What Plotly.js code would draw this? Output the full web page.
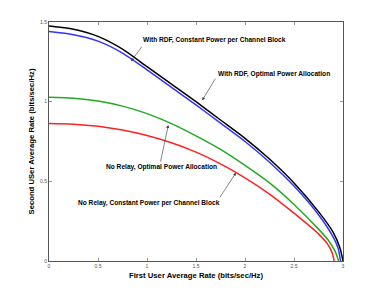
<!DOCTYPE html>
<html>
<head>
<meta charset="utf-8">
<script src="https://cdn.plot.ly/plotly-3.0.1.min.js"></script>
<style>html,body{margin:0;padding:0;background:#fff;}#chart{width:379px;height:294px;}</style>
</head>
<body>
<div id="chart"></div>
<script>
// Black: With RDF, Constant Power per Channel Block
const xBlack = [0, 0.25, 0.5, 0.75, 1.0, 1.25, 1.5, 1.75, 2.0, 2.25, 2.5, 2.75, 2.9, 2.97, 3.0];
const yBlack = [1.475, 1.455, 1.41, 1.33, 1.22, 1.11, 1.0, 0.885, 0.77, 0.64, 0.49, 0.31, 0.18, 0.08, 0];
// Blue: With RDF, Optimal Power Allocation
const xBlue = [0, 0.25, 0.5, 0.75, 1.0, 1.25, 1.5, 1.75, 2.0, 2.25, 2.5, 2.75, 2.9, 2.95, 2.975];
const yBlue = [1.44, 1.42, 1.38, 1.305, 1.2, 1.09, 0.98, 0.865, 0.75, 0.62, 0.47, 0.29, 0.15, 0.08, 0];
// Green: No Relay, Optimal Power Allocation
const xGreen = [0, 0.25, 0.5, 0.75, 1.0, 1.25, 1.5, 1.75, 2.0, 2.25, 2.5, 2.75, 2.85, 2.92, 2.955];
const yGreen = [1.028, 1.022, 1.004, 0.972, 0.925, 0.862, 0.785, 0.70, 0.60, 0.49, 0.355, 0.20, 0.13, 0.06, 0];
// Red: No Relay, Constant Power per Channel Block
const xRed = [0, 0.25, 0.5, 0.75, 1.0, 1.25, 1.5, 1.75, 2.0, 2.25, 2.5, 2.75, 2.85, 2.89, 2.91];
const yRed = [0.863, 0.859, 0.846, 0.822, 0.788, 0.742, 0.683, 0.61, 0.522, 0.42, 0.30, 0.17, 0.10, 0.05, 0];

const xTicks = [0, 0.5, 1, 1.5, 2, 2.5, 3];
const xTickText = ['0', '0.5', '1', '1.5', '2', '2.5', '3'];
const yTicks = [0, 0.5, 1, 1.5];
const yTickText = ['0', '0.5', '1', '1.5'];

const labels = [
  'With RDF, Constant Power per Channel Block',
  'With RDF, Optimal Power Allocation',
  'No Relay, Optimal Power Allocation',
  'No Relay, Constant Power per Channel Block'
];

const lw = 1.5;
const sm = 0.7;
const traces = [
  {x: xBlack, y: yBlack, mode: 'lines', line: {color: '#000000', width: lw, shape: 'spline', smoothing: sm}},
  {x: xBlue, y: yBlue, mode: 'lines', line: {color: '#3333ff', width: lw, shape: 'spline', smoothing: sm}},
  {x: xGreen, y: yGreen, mode: 'lines', line: {color: '#22aa22', width: lw, shape: 'spline', smoothing: sm}},
  {x: xRed, y: yRed, mode: 'lines', line: {color: '#ff2222', width: lw, shape: 'spline', smoothing: sm}}
];

const fontFam = 'Liberation Sans, Arial, sans-serif';
const textPos = [[1.691, 1.390], [2.293, 1.172], [1.143, 0.587], [1.017, 0.362]];
const tips = [[0.837, 1.254, 12, -16], [1.564, 1.009, 14, -23], [1.217, 0.853, -8, 38], [1.908, 0.554, -17, 26]];

const annotations = [];
labels.forEach((t, i) => {
  annotations.push({x: textPos[i][0], y: textPos[i][1], xref: 'x', yref: 'y', text: '<b>' + t + '</b>',
    showarrow: false, font: {family: fontFam, size: 6.6, color: '#000'}});
  annotations.push({x: tips[i][0], y: tips[i][1], xref: 'x', yref: 'y', text: '', showarrow: true,
    ax: tips[i][2], ay: tips[i][3], arrowhead: 2, arrowsize: 1, arrowwidth: 0.6, arrowcolor: '#333'});
});

const layout = {
  width: 379, height: 294,
  margin: {l: 49, r: 36, t: 22, b: 33, pad: 0},
  paper_bgcolor: '#ffffff', plot_bgcolor: '#ffffff',
  showlegend: false,
  font: {family: fontFam, size: 5, color: '#444'},
  xaxis: {
    range: [0, 3], tickvals: xTicks, ticktext: xTickText, ticks: 'inside', ticklen: 3, tickwidth: 0.6,
    tickcolor: '#555', showgrid: false, zeroline: false, showline: true, linecolor: '#555', linewidth: 1,
    mirror: 'ticks', tickfont: {size: 5, color: '#555'},
    title: {text: '<b>First User Average Rate (bits/sec/Hz)</b>', font: {size: 7.7, color: '#000', family: fontFam}, standoff: 4}
  },
  yaxis: {
    range: [0, 1.5], tickvals: yTicks, ticktext: yTickText, ticks: 'inside', ticklen: 3, tickwidth: 0.6,
    tickcolor: '#555', showgrid: false, zeroline: false, showline: true, linecolor: '#555', linewidth: 1,
    mirror: 'ticks', tickfont: {size: 5, color: '#555'},
    title: {text: '<b>Second USer Average Rate (bits/sec/Hz)</b>', font: {size: 7.7, color: '#000', family: fontFam}, standoff: 4}
  },
  annotations: annotations
};

Plotly.newPlot('chart', traces, layout, {displayModeBar: false, staticPlot: true});
</script>
</body>
</html>
